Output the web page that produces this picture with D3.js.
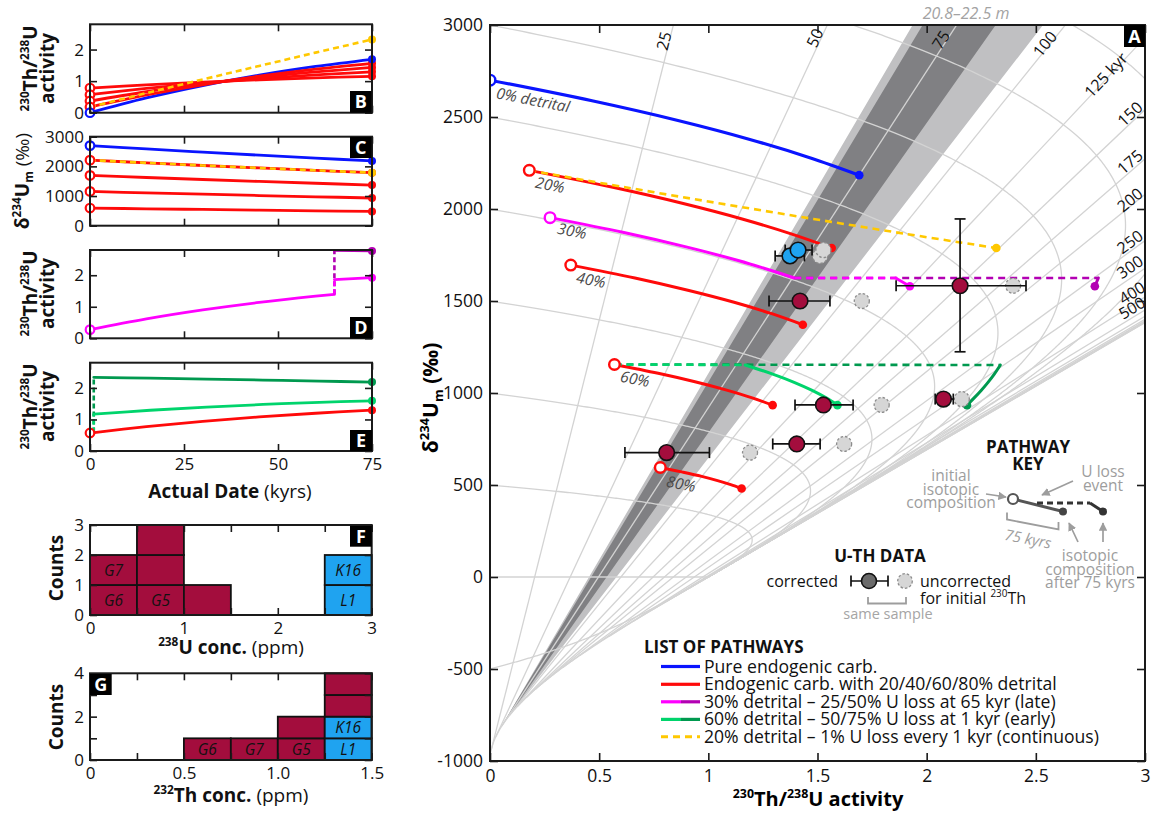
<!DOCTYPE html>
<html><head><meta charset="utf-8">
<script src="https://cdn.jsdelivr.net/npm/d3@7/dist/d3.min.js"></script>
<style>
body{margin:0;background:#fff;}
text{font-family:'Open Sans',sans-serif;}
</style></head>
<body><svg id="chart" width="1151" height="814" xmlns="http://www.w3.org/2000/svg"></svg>
<script>
// ===================== DATA =====================
// decay constants (per kyr) used for the evolution-diagram graph paper
const lambda230 = 9.1577e-3, lambda234 = 2.8263e-3;
const isochronAges = [25,50,75,100,125,150,175,200,250,300,400,500,600,700,800,1000,1500,Infinity];
const initialDeltas = [-1000,-500,0,500,1000,1500,2000,2500,3000,3500,4000];
const bandLightAges = [66, 94.5];
const bandDarkAges = [68, 83.5];

// pathways (kyr since formation)
const timeKyr = [0,15,30,45,60,75];
const pureTh = [0,0.4675,0.8609,1.1903,1.4645,1.6912];
const pureDelta = [2700,2588,2481,2378,2279,2184];
const det20Th = [0.18,0.5628,0.8850,1.1548,1.3793,1.5650];
const det20Delta = [2210,2118,2030,1946,1865,1788];
const det40Th = [0.37,0.6638,0.9110,1.1180,1.2903,1.4328];
const det40Delta = [1695,1625,1557,1493,1431,1371];
const det60Th = [0.57,0.7703,0.9388,1.0800,1.1974,1.2946];
const det60Delta = [1155,1107,1061,1017,975,934];
const det80Th = [0.78,0.8830,0.9696,1.0422,1.1026,1.1525];
const det80Delta = [595,570,547,524,502,481];
const contTh = [0.18,0.620,1.054,1.481,1.903,2.319];   // 1% U loss every kyr
const contDelta = [2210,2118,2030,1946,1865,1788];

const lateTime = [0,15,30,45,60,65];
const lateTh = [0.275,0.6133,0.8981,1.1366,1.3350,1.3932];
const lateDelta = [1953,1872,1794,1720,1648,1625];
const lateAfterTime = [65,75];
const late25Th = [1.8576,1.9228];
const late50Th = [2.7864,2.7703];
const lateAfterDelta = [1625,1580];

const earlyLossTime = 1;
const earlyBeforeTh = 0.5844;
const earlyTime = [1,16,31,46,61,75];
const early50Th = [1.1688,1.2918,1.3930,1.4755,1.5418,1.5913];
const early75Th = [2.3376,2.3106,2.2810,2.2495,2.2165,2.1848];
const earlyDelta = [1152,1104,1058,1014,972,934];

// U-Th samples
const sampleSite = ['K','K','G','G','G','G','G','G'];
const sampleTh = [1.374,1.411,2.153,1.420,1.527,1.405,2.077,0.809];
const sampleThLo = [1.306,1.352,1.860,1.278,1.397,1.295,2.039,0.618];
const sampleThHi = [1.440,1.475,2.455,1.557,1.663,1.512,2.122,1.005];
const sampleDelta = [1745,1777,1583,1500,935,723,967,676];
const sampleDeltaLo = [1745,1777,1224,1500,935,723,967,676];
const sampleDeltaHi = [1745,1777,1946,1500,935,723,967,676];
const sampleUncorrTh = [1.512,1.527,2.396,1.703,1.794,1.622,2.161,1.191];

// histograms
const uBinStart = [0,0,0.5,0.5,0.5,1.0,2.5,2.5];
const uCellLabel = ['G6','G7','G5','','','','L1','K16'];
const uCellSite = ['G','G','G','G','G','G','K','K'];
const thBinStart = [0.5,0.75,1.0,1.0,1.25,1.25,1.25,1.25];
const thCellLabel = ['G6','G7','G5','','L1','K16','',''];
const thCellSite = ['G','G','G','G','K','K','G','G'];

// tick labels
const xTicksA = [0,0.5,1,1.5,2,2.5,3];
const yTicksA = [-1000,-500,0,500,1000,1500,2000,2500,3000];
const isoLabelAge = [25,50,75,100,125,150,175,200,250,300,400,500];
const isoLabelText = ['25','50','75','100','125 kyr','150','175','200','250','300','400','500'];
const detritalLabels = ['0% detrital','20%','30%','40%','60%','80%'];
const legendLabels = ['Pure endogenic carb.','Endogenic carb. with 20/40/60/80% detrital','30% detrital \u2013 25/50% U loss at 65 kyr (late)','60% detrital \u2013 50/75% U loss at 1 kyr (early)','20% detrital \u2013 1% U loss every 1 kyr (continuous)'];

// ===================== HELPERS =====================
const BLUE='#0a14ff', RED='#ff0a0a', MAG='#ff00ff', PURP='#b300b3', LGREEN='#00d46c', DGREEN='#00994f', GOLD='#ffc800', MAROON='#a30d3d', SKY='#1fa3f0';
const GRID='#d3d3d3', KEYGRAY='#9d9d9d';
const svg = d3.select('#chart');
const defs = svg.append('defs');
const zip = (a,b)=>a.map((v,i)=>[v,b[i]]);
const K = lambda230/(lambda230-lambda234);
const isoA = t => t===Infinity?1:1-Math.exp(-lambda230*t);
const isoB = t => t===Infinity?K:K*(1-Math.exp(-(lambda230-lambda234)*t));
const thu = (d0,t) => { const dm = t===Infinity?0:d0*Math.exp(-lambda234*t); return [isoA(t)+isoB(t)*dm/1000, dm]; };
const isoTop = t => [isoA(t)+isoB(t)*5, 5000];

function rich(sel, parts, size){
  let shift=0;
  parts.forEach(p=>{
    const s = typeof p==='string'?{t:p}:p;
    const target = s.sup? -0.42*size : s.sub? 0.22*size : 0;
    const ts = sel.append('tspan').text(s.t).attr('dy',(target-shift).toFixed(2)+'px');
    shift = target;
    ts.attr('font-size',(s.sup||s.sub)? (size*0.62).toFixed(1):size);
    if(s.b) ts.attr('font-weight',700);
    if(s.i) ts.attr('font-style','italic');
  });
  return sel;
}
function styleAx(g, fs){
  g.attr('font-family',null).attr('font-size',null);
  g.select('.domain').remove();
  g.selectAll('line').attr('stroke','#1a1a1a').attr('stroke-width',1.6);
  g.selectAll('text').attr('fill','#111').attr('font-size',fs||17).style('font-family',"'Open Sans',sans-serif");
}
function boxAxes(x,y,xt,yt,o){
  const [X0,X1]=x.range(); const [Y1,Y0]=y.range();
  const tl = o.tl||7;
  svg.append('g').attr('transform',`translate(0,${Y1})`).call(d3.axisBottom(x).tickValues(xt).tickSize(-tl).tickPadding(o.xpad||7).tickFormat(o.xfmt||(()=>''))).call(styleAx,o.fs);
  svg.append('g').attr('transform',`translate(0,${Y0})`).call(d3.axisTop(x).tickValues(xt).tickSize(-tl).tickFormat(()=>'')).call(styleAx);
  svg.append('g').attr('transform',`translate(${X0},0)`).call(d3.axisLeft(y).tickValues(yt).tickSize(-tl).tickPadding(o.ypad||6).tickFormat(o.yfmt||(d=>String(d)))).call(styleAx,o.fs);
  svg.append('g').attr('transform',`translate(${X1},0)`).call(d3.axisRight(y).tickValues(yt).tickSize(-tl).tickFormat(()=>'')).call(styleAx);
  svg.append('rect').attr('x',X0).attr('y',Y0).attr('width',X1-X0).attr('height',Y1-Y0).attr('fill','none').attr('stroke','#1a1a1a').attr('stroke-width',2);
}
function letterBox(x,y,w,h,ch){
  svg.append('rect').attr('x',x).attr('y',y).attr('width',w).attr('height',h).attr('fill','#000');
  svg.append('text').attr('x',x+w/2).attr('y',y+h/2+6.5).attr('text-anchor','middle').attr('fill','#fff').attr('font-weight',700).attr('font-size',18).text(ch);
}
function drawPath(g,line,pts,color,w,dash){
  return g.append('path').attr('d',line(pts)).attr('fill','none').attr('stroke',color).attr('stroke-width',w)
    .attr('stroke-dasharray',dash||null).attr('stroke-linecap',dash?'butt':'round').attr('stroke-linejoin','round');
}
function openDot(g,cx,cy,color,r,w){ g.append('circle').attr('cx',cx).attr('cy',cy).attr('r',r).attr('fill','#fff').attr('stroke',color).attr('stroke-width',w||2.4); }
function dot(g,cx,cy,color,r){ g.append('circle').attr('cx',cx).attr('cy',cy).attr('r',r).attr('fill',color); }

// ===================== PANEL A =====================
const xA = d3.scaleLinear().domain([0,3]).range([490,1145]);
const yA = d3.scaleLinear().domain([-1000,3000]).range([761,25]);
defs.append('clipPath').attr('id','clipA').append('rect').attr('x',490).attr('y',25).attr('width',655).attr('height',736);
const gA = svg.append('g').attr('clip-path','url(#clipA)');
const lineA = d3.line().x(d=>xA(d[0])).y(d=>yA(d[1]));
const curveA = d3.line().x(d=>xA(d[0])).y(d=>yA(d[1])).curve(d3.curveCatmullRom.alpha(0.5));

function bandPath(t1,t2){
  const bottom = d3.range(21).map(i=>thu(-1000,t1+(t2-t1)*i/20));
  return lineA(bottom.concat([isoTop(t2),isoTop(t1)]))+'Z';
}
gA.append('path').attr('d',bandPath(...bandLightAges)).attr('fill','#c0c0c2');
gA.append('path').attr('d',bandPath(...bandDarkAges)).attr('fill','#808083');

isochronAges.forEach(t=>{
  gA.append('path').attr('d',lineA([thu(-1000,t),isoTop(t)])).attr('fill','none').attr('stroke',GRID).attr('stroke-width',1.3);
});
const arcTimes = d3.range(0,600,1).concat(d3.range(600,6001,10));
initialDeltas.forEach(d0=>{
  gA.append('path').attr('d',lineA(arcTimes.map(t=>thu(d0,t)))).attr('fill','none').attr('stroke',GRID).attr('stroke-width',1.3);
});

// pathways
drawPath(gA,curveA,zip(pureTh,pureDelta),BLUE,3.2);
[[det20Th,det20Delta],[det40Th,det40Delta],[det60Th,det60Delta],[det80Th,det80Delta]].forEach(([a,b])=>drawPath(gA,curveA,zip(a,b),RED,3));
drawPath(gA,curveA,zip(lateTh,lateDelta),MAG,3);
const lastLate = lateTh.length-1;
drawPath(gA,lineA,[[lateTh[lastLate],lateDelta[lastLate]],[late50Th[0],lateAfterDelta[0]]],PURP,2.6,'7,5');
drawPath(gA,lineA,[[lateTh[lastLate],lateDelta[lastLate]],[late25Th[0],lateAfterDelta[0]]],MAG,2.6,'7,5');
drawPath(gA,lineA,zip(late25Th,lateAfterDelta),MAG,3);
drawPath(gA,lineA,zip(late50Th,lateAfterDelta),PURP,3);
drawPath(gA,lineA,[[det60Th[0],det60Delta[0]],[early75Th[0],earlyDelta[0]]],DGREEN,2.6,'7,5');
drawPath(gA,lineA,[[det60Th[0],det60Delta[0]],[early50Th[0],earlyDelta[0]]],LGREEN,2.6,'7,5');
drawPath(gA,curveA,zip(early50Th,earlyDelta),LGREEN,3);
drawPath(gA,curveA,zip(early75Th,earlyDelta),DGREEN,3);
drawPath(gA,curveA,zip(contTh,contDelta),GOLD,2.6,'7,5');
// start/end markers
[[pureTh,pureDelta,BLUE],[det20Th,det20Delta,RED],[lateTh,lateDelta,MAG],[det40Th,det40Delta,RED],[det60Th,det60Delta,RED],[det80Th,det80Delta,RED]].forEach(([a,b,c])=>openDot(gA,xA(a[0]),yA(b[0]),c,5.3,2.4));
[[pureTh,pureDelta,BLUE],[det20Th,det20Delta,RED],[det40Th,det40Delta,RED],[det60Th,det60Delta,RED],[det80Th,det80Delta,RED],[contTh,contDelta,GOLD],[late25Th,lateAfterDelta,MAG],[late50Th,lateAfterDelta,PURP],[early50Th,earlyDelta,LGREEN],[early75Th,earlyDelta,DGREEN]].forEach(([a,b,c])=>dot(gA,xA(a[a.length-1]),yA(b[b.length-1]),c,4.3));

// samples
const gS = svg.append('g');
sampleTh.forEach((v,i)=>{
  gS.append('circle').attr('cx',xA(sampleUncorrTh[i])).attr('cy',yA(sampleDelta[i])).attr('r',7.5).attr('fill','#d6d6d6').attr('stroke','#8c8c8c').attr('stroke-width',1.3).attr('stroke-dasharray','2.5,2');
});
sampleTh.forEach((v,i)=>{
  const y=yA(sampleDelta[i]), x1=xA(sampleThLo[i]), x2=xA(sampleThHi[i]);
  gS.append('line').attr('x1',x1).attr('x2',x2).attr('y1',y).attr('y2',y).attr('stroke','#111').attr('stroke-width',1.7);
  [x1,x2].forEach(x=>gS.append('line').attr('x1',x).attr('x2',x).attr('y1',y-5.5).attr('y2',y+5.5).attr('stroke','#111').attr('stroke-width',1.7));
  if(sampleDeltaHi[i]!==sampleDeltaLo[i]){
    const x=xA(v), ya=yA(sampleDeltaHi[i]), yb=yA(sampleDeltaLo[i]);
    gS.append('line').attr('x1',x).attr('x2',x).attr('y1',ya).attr('y2',yb).attr('stroke','#111').attr('stroke-width',1.7);
    [ya,yb].forEach(yy=>gS.append('line').attr('x1',x-5.5).attr('x2',x+5.5).attr('y1',yy).attr('y2',yy).attr('stroke','#111').attr('stroke-width',1.7));
  }
});
sampleTh.forEach((v,i)=>{
  gS.append('circle').attr('cx',xA(v)).attr('cy',yA(sampleDelta[i])).attr('r',7.8).attr('fill',sampleSite[i]==='K'?SKY:MAROON).attr('stroke','#111').attr('stroke-width',1.6);
});

// band label
svg.append('text').attr('x',966).attr('y',19).attr('text-anchor','middle').attr('font-style','italic').attr('font-size',16).attr('fill','#a3a3a3').text('20.8\u201322.5 m');
// isochron labels
const isoLabelPos = [[664,41],[815,38],[941,40],[1045,44],[1106,75],[1130,114],[1130,162],[1130,200],[1130,242],[1130,267],[1132,293],[1132,308]];
isoLabelAge.forEach((t,i)=>{
  const ang = Math.atan2(yA(1000)-yA(0), xA(isoB(t))-xA(0))*180/Math.PI;
  const [px,py]=isoLabelPos[i];
  svg.append('text').attr('transform',`translate(${px},${py}) rotate(${ang.toFixed(1)})`).attr('text-anchor','middle').attr('dy','0.35em').attr('font-size',16).attr('fill','#111').text(isoLabelText[i]);
});
// detrital labels
const detritalPos = [[533,100],[550,185],[572,231],[591,280],[635,379],[681,484]];
detritalLabels.forEach((s,i)=>{
  svg.append('text').attr('transform',`translate(${detritalPos[i][0]},${detritalPos[i][1]}) rotate(11)`).attr('text-anchor','middle').attr('dy','0.35em').attr('font-size',15.5).attr('font-style','italic').attr('fill','#4a4a4a').text(s);
});

// axes A
boxAxes(xA,yA,xTicksA,yTicksA,{fs:17.5,tl:8,xpad:9,ypad:7,xfmt:d=>String(d)});
letterBox(1124,25,21,22,'A');
rich(svg.append('text').attr('x',818).attr('y',806).attr('text-anchor','middle').attr('font-weight',700),
  [{t:'230',sup:1,b:1},{t:'Th/',b:1},{t:'238',sup:1,b:1},{t:'U activity',b:1}],20);
rich(svg.append('text').attr('transform','translate(438,398) rotate(-90)').attr('text-anchor','middle').attr('font-weight',700),
  [{t:'\u03b4',b:1},{t:'234',sup:1,b:1},{t:'U',b:1},{t:'m',sub:1,b:1},{t:' (\u2030)',b:1}],21);

// legend: list of pathways
svg.append('text').attr('x',644).attr('y',653).attr('font-weight',700).attr('font-size',17).attr('fill','#111').text('LIST OF PATHWAYS');
const legRowY = [666.5,684.3,701.8,719.4,736.8];
const legColors = [[BLUE,BLUE],[RED,RED],[MAG,PURP],[LGREEN,DGREEN],[GOLD,GOLD]];
legendLabels.forEach((s,i)=>{
  const y=legRowY[i];
  if(i===4){ svg.append('line').attr('x1',661).attr('x2',700).attr('y1',y).attr('y2',y).attr('stroke',GOLD).attr('stroke-width',3).attr('stroke-dasharray','7,5'); }
  else {
    svg.append('line').attr('x1',661).attr('x2',681).attr('y1',y).attr('y2',y).attr('stroke',legColors[i][0]).attr('stroke-width',3.2);
    svg.append('line').attr('x1',681).attr('x2',700).attr('y1',y).attr('y2',y).attr('stroke',legColors[i][1]).attr('stroke-width',3.2);
  }
  svg.append('text').attr('x',704).attr('y',y+6).attr('font-size',17.6).attr('fill','#111').text(s);
});

// U-TH DATA legend
svg.append('text').attr('x',880).attr('y',562).attr('text-anchor','middle').attr('font-weight',700).attr('font-size',17).attr('fill','#111').text('U-TH DATA');
svg.append('text').attr('x',838).attr('y',587).attr('text-anchor','end').attr('font-size',16).attr('fill','#111').text('corrected');
svg.append('line').attr('x1',851).attr('x2',888).attr('y1',581).attr('y2',581).attr('stroke','#111').attr('stroke-width',1.7);
[851,888].forEach(x=>svg.append('line').attr('x1',x).attr('x2',x).attr('y1',575.5).attr('y2',586.5).attr('stroke','#111').attr('stroke-width',1.7));
svg.append('circle').attr('cx',869).attr('cy',581).attr('r',7.5).attr('fill','#6b6b6b').attr('stroke','#111').attr('stroke-width',1.6);
svg.append('circle').attr('cx',905).attr('cy',581).attr('r',7.3).attr('fill','#d6d6d6').attr('stroke','#8c8c8c').attr('stroke-width',1.3).attr('stroke-dasharray','2.5,2');
svg.append('text').attr('x',920).attr('y',587).attr('font-size',16).attr('fill','#111').text('uncorrected');
rich(svg.append('text').attr('x',920).attr('y',604).attr('fill','#111'),['for initial ',{t:'230',sup:1},'Th'],16);
svg.append('path').attr('d','M868,597 V603.5 H906 V597').attr('fill','none').attr('stroke',KEYGRAY).attr('stroke-width',1.8);
svg.append('text').attr('x',888).attr('y',619).attr('text-anchor','middle').attr('font-size',14.5).attr('fill','#a5a5a5').text('same sample');

// PATHWAY KEY
defs.append('marker').attr('id','arr').attr('viewBox','0 0 10 10').attr('refX',9).attr('refY',5).attr('markerWidth',5).attr('markerHeight',5).attr('orient','auto')
  .append('path').attr('d','M0,0 L10,5 L0,10 Z').attr('fill',KEYGRAY);
svg.append('text').attr('x',1028).attr('y',453).attr('text-anchor','middle').attr('font-weight',700).attr('font-size',17).attr('fill','#111').text('PATHWAY');
svg.append('text').attr('x',1028).attr('y',470).attr('text-anchor','middle').attr('font-weight',700).attr('font-size',17).attr('fill','#111').text('KEY');
[['initial',481],['isotopic',494.5],['composition',508]].forEach(([s,y])=>svg.append('text').attr('x',951).attr('y',y).attr('text-anchor','middle').attr('font-size',15.5).attr('fill',KEYGRAY).text(s));
[['U loss',477],['event',491]].forEach(([s,y])=>svg.append('text').attr('x',1103).attr('y',y).attr('text-anchor','middle').attr('font-size',15.5).attr('fill',KEYGRAY).text(s));
[['isotopic',561],['composition',575],['after 75 kyrs',588]].forEach(([s,y])=>svg.append('text').attr('x',1090).attr('y',y).attr('text-anchor','middle').attr('font-size',15.5).attr('fill',KEYGRAY).text(s));
const arrow=(x1,y1,x2,y2)=>svg.append('line').attr('x1',x1).attr('y1',y1).attr('x2',x2).attr('y2',y2).attr('stroke',KEYGRAY).attr('stroke-width',1.7).attr('marker-end','url(#arr)');
arrow(986,494,1006,497);
arrow(1073,481,1042,495);
arrow(1078,542,1069,523);
arrow(1103,542,1103,523);
svg.append('line').attr('x1',1013).attr('y1',499).attr('x2',1063).attr('y2',511.5).attr('stroke','#555').attr('stroke-width',3);
svg.append('line').attr('x1',1037).attr('y1',503).attr('x2',1090).attr('y2',503).attr('stroke','#333').attr('stroke-width',3).attr('stroke-dasharray','6,4');
svg.append('line').attr('x1',1090).attr('y1',503).attr('x2',1103).attr('y2',511.5).attr('stroke','#333').attr('stroke-width',3);
svg.append('circle').attr('cx',1013).attr('cy',499).attr('r',5).attr('fill','#fff').attr('stroke','#555').attr('stroke-width',2.2);
svg.append('circle').attr('cx',1063).attr('cy',511.5).attr('r',4).attr('fill','#444');
svg.append('circle').attr('cx',1103).attr('cy',511.5).attr('r',4).attr('fill','#333');
svg.append('path').attr('d','M1007,512.5 V519.5 L1058.5,529.5 V522').attr('fill','none').attr('stroke',KEYGRAY).attr('stroke-width',1.8);
svg.append('text').attr('transform','translate(1028,539) rotate(11)').attr('text-anchor','middle').attr('dy','0.35em').attr('font-size',15).attr('font-style','italic').attr('fill',KEYGRAY).text('75 kyrs');

// ===================== LEFT PANELS B-E =====================
const xT = d3.scaleLinear().domain([0,75]).range([90,372]);
const tTicks=[0,25,50,75];
const yB = d3.scaleLinear().domain([0,2.8]).range([112.7,24.3]);
const yC = d3.scaleLinear().domain([0,3000]).range([225.7,136.7]);
const yD = d3.scaleLinear().domain([0,2.8]).range([338.3,250]);
const yE = d3.scaleLinear().domain([0,2.8]).range([451,362.7]);
const mk = y => ({s:d3.line().x(d=>xT(d[0])).y(d=>y(d[1])), c:d3.line().x(d=>xT(d[0])).y(d=>y(d[1])).curve(d3.curveCatmullRom.alpha(0.5))});
const gL = svg.append('g');

// B
(function(){ const L=mk(yB);
  [[pureTh,BLUE],[det20Th,RED],[det40Th,RED],[det60Th,RED],[det80Th,RED]].forEach(([v,c])=>drawPath(gL,L.c,zip(timeKyr,v),c,2.8));
  drawPath(gL,L.c,zip(timeKyr,contTh),GOLD,2.6,'6,4');
  [[det80Th,RED],[det60Th,RED],[det40Th,RED],[det20Th,RED],[pureTh,BLUE]].forEach(([v,c])=>openDot(gL,xT(0),yB(v[0]),c,4.3,2.2));
  [[det80Th,RED],[det60Th,RED],[det40Th,RED],[det20Th,RED],[pureTh,BLUE],[contTh,GOLD]].forEach(([v,c])=>dot(gL,xT(75),yB(v[5]),c,4));
  boxAxes(xT,yB,tTicks,[0,1,2],{fs:17});
  letterBox(350,91,21.5,21.7,'B');
})();
// C
(function(){ const L=mk(yC);
  [[pureDelta,BLUE],[det20Delta,RED],[det40Delta,RED],[det60Delta,RED],[det80Delta,RED]].forEach(([v,c])=>drawPath(gL,L.c,zip(timeKyr,v),c,2.8));
  drawPath(gL,L.c,zip(timeKyr,contDelta),GOLD,2.6,'6,4');
  [[det80Delta,RED],[det60Delta,RED],[det40Delta,RED],[det20Delta,RED],[pureDelta,BLUE]].forEach(([v,c])=>openDot(gL,xT(0),yC(v[0]),c,4.3,2.2));
  [[det80Delta,RED],[det60Delta,RED],[det40Delta,RED],[det20Delta,RED],[pureDelta,BLUE],[contDelta,GOLD]].forEach(([v,c])=>dot(gL,xT(75),yC(v[5]),c,4));
  boxAxes(xT,yC,tTicks,[0,1000,2000,3000],{fs:17});
  letterBox(350,137,21.5,21,'C');
})();
// D
(function(){ const L=mk(yD);
  drawPath(gL,L.c,zip(lateTime,lateTh),MAG,2.8);
  drawPath(gL,L.s,[[65,lateTh[5]],[65,late50Th[0]]],PURP,2.6,'5,3');
  drawPath(gL,L.s,[[65,lateTh[5]],[65,late25Th[0]]],MAG,2.6,'5,3');
  drawPath(gL,L.s,zip(lateAfterTime,late25Th),MAG,2.8);
  drawPath(gL,L.s,zip(lateAfterTime,late50Th),PURP,2.8);
  openDot(gL,xT(0),yD(lateTh[0]),MAG,4.3,2.2);
  dot(gL,xT(75),yD(late25Th[1]),MAG,4); dot(gL,xT(75),yD(late50Th[1]),PURP,4);
  boxAxes(xT,yD,tTicks,[0,1,2],{fs:17});
  letterBox(350,317,22,21.3,'D');
})();
// E
(function(){ const L=mk(yE);
  drawPath(gL,L.c,zip(timeKyr,det60Th),RED,2.8);
  drawPath(gL,L.s,[[earlyLossTime,earlyBeforeTh],[earlyLossTime,early75Th[0]]],DGREEN,2.6,'5,3');
  drawPath(gL,L.s,[[earlyLossTime,earlyBeforeTh],[earlyLossTime,early50Th[0]]],LGREEN,2.6,'5,3');
  drawPath(gL,L.c,zip(earlyTime,early50Th),LGREEN,2.8);
  drawPath(gL,L.c,zip(earlyTime,early75Th),DGREEN,2.8);
  openDot(gL,xT(0),yE(det60Th[0]),RED,4.3,2.2);
  dot(gL,xT(75),yE(det60Th[5]),RED,4); dot(gL,xT(75),yE(early50Th[5]),LGREEN,4); dot(gL,xT(75),yE(early75Th[5]),DGREEN,4);
  boxAxes(xT,yE,tTicks,[0,1,2],{fs:17,xfmt:d=>String(d),xpad:7});
  letterBox(350,430,22,21,'E');
})();
// y titles B, D, E
[[68.5],[293.5],[406.5]].forEach(([cy])=>{
  rich(svg.append('text').attr('transform',`translate(37,${cy}) rotate(-90)`).attr('text-anchor','middle').attr('fill','#111'),
    [{t:'230',sup:1,b:1},{t:'Th/',b:1},{t:'238',sup:1,b:1},{t:'U',b:1}],19);
  svg.append('text').attr('transform',`translate(54,${cy}) rotate(-90)`).attr('text-anchor','middle').attr('font-weight',700).attr('font-size',19).attr('fill','#111').text('activity');
});
rich(svg.append('text').attr('transform','translate(29,181) rotate(-90)').attr('text-anchor','middle').attr('fill','#111'),
  [{t:'\u03b4',b:1},{t:'234',sup:1,b:1},{t:'U',b:1},{t:'m',sub:1,b:1},' (\u2030)'],19);
rich(svg.append('text').attr('x',230).attr('y',498).attr('text-anchor','middle').attr('fill','#111'),[{t:'Actual Date',b:1},' (kyrs)'],19);

// ===================== HISTOGRAMS F, G =====================
function histogram(x,y,binStart,binW,labels,sites){
  const counts={};
  const g=svg.append('g');
  binStart.forEach((b,i)=>{
    const k=b.toFixed(2); const lvl=counts[k]||0; counts[k]=lvl+1;
    const x0=x(b), x1=x(b+binW), y0=y(lvl+1), y1=y(lvl);
    g.append('rect').attr('x',x0).attr('y',y0).attr('width',x1-x0).attr('height',y1-y0).attr('fill',sites[i]==='K'?SKY:MAROON).attr('stroke','#111').attr('stroke-width',1.8);
    if(labels[i]) g.append('text').attr('x',(x0+x1)/2).attr('y',(y0+y1)/2+5.5).attr('text-anchor','middle').attr('font-style','italic').attr('font-size',15.5).attr('fill','#111').text(labels[i]);
  });
}
const xF = d3.scaleLinear().domain([0,3]).range([90,371.7]);
const yF = d3.scaleLinear().domain([0,3]).range([615,525]);
histogram(xF,yF,uBinStart,0.5,uCellLabel,uCellSite);
boxAxes(xF,yF,d3.range(0,3.01,0.5),[0,1,2,3],{fs:17,xpad:7,xfmt:d=>Number.isInteger(d)?String(d):''});
letterBox(350,526,21.7,20.7,'F');
rich(svg.append('text').attr('x',231).attr('y',654).attr('text-anchor','middle').attr('fill','#111'),[{t:'238',sup:1,b:1},{t:'U conc.',b:1},' (ppm)'],19);

const xG = d3.scaleLinear().domain([0,1.5]).range([90,371.7]);
const yG = d3.scaleLinear().domain([0,4]).range([760,673.3]);
histogram(xG,yG,thBinStart,0.25,thCellLabel,thCellSite);
boxAxes(xG,yG,[0,0.25,0.5,0.75,1,1.25,1.5],[0,1,2,3,4],{fs:17,xpad:7,
  xfmt:d=>Math.abs(d*2-Math.round(d*2))<1e-9?(d===0?'0':d3.format('.1f')(d)):'', yfmt:d=>d%2===0?String(d):''});
letterBox(90,674,21.7,21,'G');
rich(svg.append('text').attr('x',231).attr('y',802).attr('text-anchor','middle').attr('fill','#111'),[{t:'232',sup:1,b:1},{t:'Th conc.',b:1},' (ppm)'],19);
[[568],[717]].forEach(([cy])=>svg.append('text').attr('transform',`translate(63,${cy}) rotate(-90)`).attr('text-anchor','middle').attr('font-weight',700).attr('font-size',19).attr('fill','#111').text('Counts'));
</script></body></html>
